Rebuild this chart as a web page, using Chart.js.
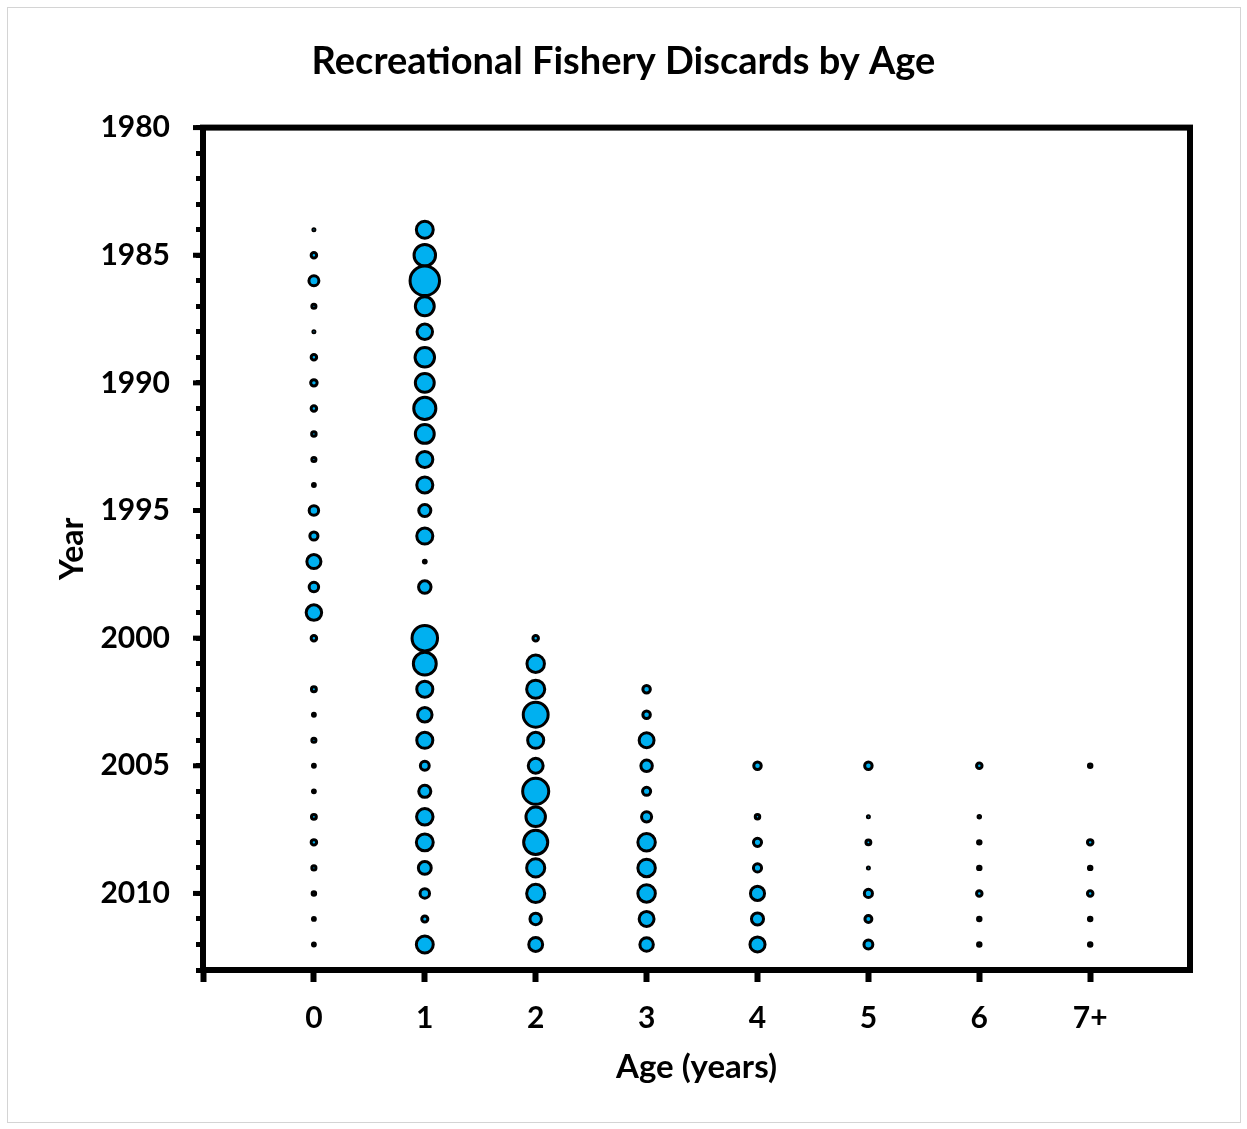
<!DOCTYPE html>
<html>
<head>
<meta charset="utf-8">
<title>Recreational Fishery Discards by Age</title>
<script src="https://cdn.jsdelivr.net/npm/chart.js@4.4.1/dist/chart.umd.min.js"></script>
<style>
  html, body { margin: 0; padding: 0; background: #ffffff; }
  canvas { display: block; }
</style>
</head>
<body>
<canvas id="chart" width="1247" height="1129"></canvas>
<script>
// Survey years (rows) and age classes (columns)
const years = [1984, 1985, 1986, 1987, 1988, 1989, 1990, 1991, 1992, 1993,
               1994, 1995, 1996, 1997, 1998, 1999, 2000, 2001, 2002, 2003,
               2004, 2005, 2006, 2007, 2008, 2009, 2010, 2011, 2012];
const ageLabels = ['0', '1', '2', '3', '4', '5', '6', '7+'];
const yearTickStep = 5;

// Discards per year for each age class (null = none recorded)
const discardsAge0 = [4, 30, 100, 17, 4, 30, 42, 30, 20, 17,
                      8, 90, 66, 199, 90, 240, 30, null, 24, 8,
                      17, 8, 8, 24, 30, 17, 12, 8, 8];
const discardsAge1 = [286, 462, 870, 357, 240, 380, 357, 488, 357, 259,
                      259, 146, 259, 8, 156, null, 650, 524, 259, 210,
                      259, 79, 146, 272, 286, 166, 90, 37, 286];
const discardsAge2 = [null, null, null, null, null, null, null, null, null, null,
                      null, null, null, null, null, null, 30, 306, 328, 620,
                      259, 222, 681, 380, 581, 328, 328, 132, 193];
const discardsAge3 = [null, null, null, null, null, null, null, null, null, null,
                      null, null, null, null, null, null, null, null, 56, 56,
                      222, 132, 66, 102, 306, 306, 306, 222, 182];
const discardsAge4 = [null, null, null, null, null, null, null, null, null, null,
                      null, null, null, null, null, null, null, null, null, null,
                      null, 56, null, 20, 66, 66, 199, 146, 228];
const discardsAge5 = [null, null, null, null, null, null, null, null, null, null,
                      null, null, null, null, null, null, null, null, null, null,
                      null, 56, null, 4, 24, 4, 66, 48, 79];
const discardsAge6 = [null, null, null, null, null, null, null, null, null, null,
                      null, null, null, null, null, null, null, null, null, null,
                      null, 30, null, 6, 12, 12, 30, 12, 12];
const discardsAge7 = [null, null, null, null, null, null, null, null, null, null,
                      null, null, null, null, null, null, null, null, null, null,
                      null, 12, null, null, 30, 12, 30, 12, 12];

const discardsByAge = [discardsAge0, discardsAge1, discardsAge2, discardsAge3,
                       discardsAge4, discardsAge5, discardsAge6, discardsAge7];

// Bubble area is proportional to the number of discards
const BUBBLE_SCALE = 0.5;
const FONT = 'Lato';

const datasets = discardsByAge.map((series, ageIndex) => ({
  label: 'Age ' + ageLabels[ageIndex],
  data: years
    .map((year, i) => series[i] == null ? null
      : { x: ageIndex, y: year, r: Math.sqrt(series[i]) * BUBBLE_SCALE })
    .filter(p => p !== null),
  backgroundColor: '#00B0F0',
  borderColor: '#000000',
  borderWidth: 3,
  hoverRadius: 0
}));

// Page outline, plot frame and the longer ticks on labelled years
const framePlugin = {
  id: 'frame',
  beforeDraw(chart) {
    const ctx = chart.ctx;
    ctx.save();
    ctx.fillStyle = '#ffffff';
    ctx.fillRect(0, 0, chart.width, chart.height);
    ctx.strokeStyle = '#d4d4d4';
    ctx.lineWidth = 1;
    ctx.strokeRect(7.5, 7.5, 1233, 1115);
    ctx.restore();
  },
  afterDraw(chart) {
    const { ctx, chartArea } = chart;
    const yScale = chart.scales.y;
    ctx.save();
    ctx.strokeStyle = '#000000';
    ctx.lineWidth = 6;
    ctx.strokeRect(chartArea.left, chartArea.top,
                   chartArea.right - chartArea.left, chartArea.bottom - chartArea.top);
    ctx.lineWidth = 5;
    yScale.ticks.forEach(t => {
      if (t.value % yearTickStep === 0) {
        const py = yScale.getPixelForValue(t.value);
        ctx.beginPath();
        ctx.moveTo(chartArea.left - 10, py);
        ctx.lineTo(chartArea.left, py);
        ctx.stroke();
      }
    });
    ctx.restore();
  }
};

new Chart(document.getElementById('chart'), {
  type: 'bubble',
  data: { datasets },
  plugins: [framePlugin],
  options: {
    responsive: false,
    animation: false,
    events: [],
    layout: { padding: 0 },
    plugins: {
      legend: { display: false },
      tooltip: { enabled: false },
      title: {
        display: true,
        text: 'Recreational Fishery Discards by Age',
        color: '#000000',
        font: { family: FONT, size: 38, weight: 'bold' },
        padding: { top: 39, bottom: 43 }
      }
    },
    scales: {
      x: {
        type: 'linear',
        position: 'bottom',
        bounds: 'data',
        min: -1,
        max: 7.9,
        border: { display: false },
        grid: { drawOnChartArea: false, drawTicks: true, tickLength: 12, tickWidth: 6, tickColor: '#000000' },
        ticks: {
          stepSize: 1,
          includeBounds: false,
          autoSkip: false,
          maxRotation: 0,
          color: '#000000',
          padding: 18,
          font: { family: FONT, size: 30, weight: 'bold' },
          callback: v => ageLabels[v] !== undefined ? ageLabels[v] : ''
        },
        title: {
          display: true,
          text: 'Age (years)',
          color: '#000000',
          font: { family: FONT, size: 33, weight: 'bold' },
          padding: { top: 0, bottom: 42 }
        },
        afterFit: scale => { scale.height = 159; }
      },
      y: {
        type: 'linear',
        position: 'left',
        bounds: 'data',
        reverse: true,
        min: 1980,
        max: 2013,
        border: { display: false },
        grid: { drawOnChartArea: false, drawTicks: true, tickLength: 7, tickWidth: 5, tickColor: '#000000' },
        ticks: {
          stepSize: 1,
          autoSkip: false,
          color: '#000000',
          padding: 26,
          font: { family: FONT, size: 30, weight: 'bold' },
          callback: v => v % yearTickStep === 0 ? String(v) : ''
        },
        title: {
          display: true,
          text: 'Year',
          color: '#000000',
          font: { family: FONT, size: 32, weight: 'bold' },
          padding: { top: 53, bottom: 0 }
        },
        afterFit: scale => { scale.width = 203; }
      },
      // Empty right-hand margin beside the plot frame
      yRight: {
        type: 'linear',
        position: 'right',
        display: true,
        grid: { display: false, drawTicks: false },
        border: { display: false },
        ticks: { display: false },
        afterFit: scale => { scale.width = 57; }
      }
    }
  }
});
</script>
</body>
</html>
